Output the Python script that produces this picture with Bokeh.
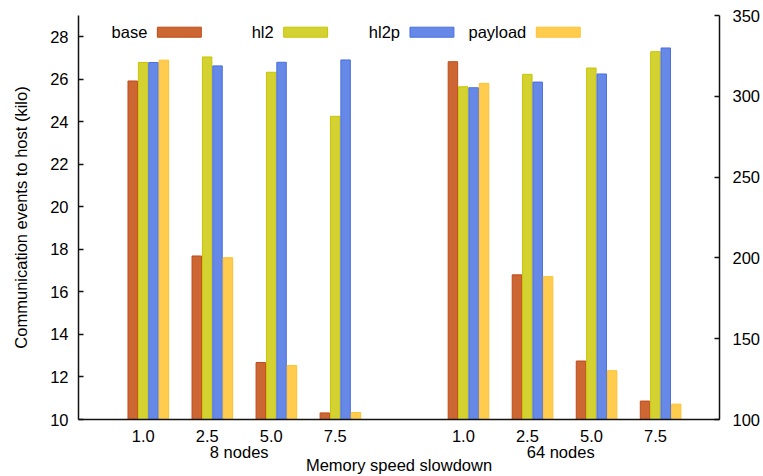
from bokeh.plotting import figure
from bokeh.models import Range1d, LinearAxis, FixedTicker, Label, BoxAnnotation, ColumnDataSource
from bokeh.embed import file_html
from bokeh.resources import INLINE

# ---- data ----
series = ["base", "hl2", "hl2p", "payload"]
slowdowns = ["1.0", "2.5", "5.0", "7.5"]
clusters = ["8 nodes", "64 nodes"]

# 8 nodes (left axis, kilo)
base_8 = [25.92, 17.69, 12.68, 10.31]
hl2_8 = [26.79, 27.05, 26.33, 24.26]
hl2p_8 = [26.79, 26.63, 26.80, 26.91]
payload_8 = [26.90, 17.61, 12.54, 10.33]

# 64 nodes (right axis, kilo)
base_64 = [321.4, 189.5, 136.2, 111.4]
hl2_64 = [305.9, 313.6, 317.5, 327.6]
hl2p_64 = [305.3, 308.8, 313.8, 329.9]
payload_64 = [308.0, 188.4, 130.2, 109.5]

left_ticks = [10, 12, 14, 16, 18, 20, 22, 24, 26, 28]
right_ticks = [100, 150, 200, 250, 300, 350]

fills = ["#CC6633", "#D4D233", "#6688E6", "#FFCC4D"]
edges = ["#C04A18", "#C8C400", "#4A6EE0", "#FFC030"]

FONT = "Liberation Sans"
FS = "16.5px"

# ---- geometry ----
FL, FR, FT, FB = 78, 720, 15, 419
XMIN, XMAX = -0.09, 9.92
YMIN, YMAX = 10, 29
RMIN, RMAX = 100, 350

def px_x(px):
    return XMIN + (px - FL) / (FR - FL) * (XMAX - XMIN)

def px_y(py):
    return YMAX - (py - FT) / (FB - FT) * (YMAX - YMIN)

p = figure(width=763, height=476, output_backend="svg", toolbar_location=None,
           x_range=Range1d(XMIN, XMAX), y_range=Range1d(YMIN, YMAX),
           min_border_left=FL, min_border_right=763 - FR,
           min_border_top=FT, min_border_bottom=476 - FB)
p.extra_y_ranges = {"right": Range1d(RMIN, RMAX)}
p.outline_line_color = None
p.xgrid.visible = False
p.ygrid.visible = False
p.background_fill_color = "white"

group_pos_8 = [1 + i for i in range(len(slowdowns))]
group_pos_64 = [6 + i for i in range(len(slowdowns))]
bw = 0.148
step = 0.162

vals_8 = [base_8, hl2_8, hl2p_8, payload_8]
vals_64 = [base_64, hl2_64, hl2p_64, payload_64]

for k, name in enumerate(series):
    off = (k - 1.5) * step
    src8 = ColumnDataSource(dict(x=[g + off for g in group_pos_8], top=vals_8[k]))
    p.vbar(x="x", top="top", bottom=YMIN, width=bw, source=src8,
           fill_color=fills[k], line_color=edges[k], line_width=1)
    src64 = ColumnDataSource(dict(x=[g + off for g in group_pos_64], top=vals_64[k]))
    p.vbar(x="x", top="top", bottom=RMIN, width=bw, source=src64,
           fill_color=fills[k], line_color=edges[k], line_width=1, y_range_name="right")

# ---- axes ----
ax = p.xaxis[0]
tick_pos = [g - 0.08 for g in group_pos_8 + group_pos_64]
cluster_pos = [2.42, 7.44]
ax.ticker = FixedTicker(ticks=tick_pos + cluster_pos)
overrides = {t: lab for t, lab in zip(tick_pos, slowdowns + slowdowns)}
for cpos, txt in zip(cluster_pos, clusters):
    overrides[cpos] = "\n" + txt
ax.major_label_overrides = overrides
ax.major_label_text_line_height = 0.9
ax.major_tick_in = 0
ax.major_tick_out = 0
ax.minor_tick_line_color = None
ax.major_label_standoff = 7
ax.axis_label = "Memory speed slowdown"
ax.axis_label_standoff = -8
ax.axis_label_text_font_style = "normal"

ay = p.yaxis[0]
ay.ticker = FixedTicker(ticks=left_ticks)
ay.major_tick_in = 5
ay.major_tick_out = 0
ay.minor_tick_line_color = None
ay.major_label_standoff = 10
ay.axis_label = "Communication events to host (kilo)"
ay.axis_label_standoff = 17
ay.axis_label_text_font_style = "normal"

ry = LinearAxis(y_range_name="right", ticker=FixedTicker(ticks=right_ticks))
ry.major_tick_in = 5
ry.major_tick_out = 0
ry.minor_tick_line_color = None
ry.major_label_standoff = 13
p.add_layout(ry, "right")

for a in [ax, ay, ry]:
    a.axis_line_color = "#111111"
    a.axis_line_width = 1.5
    a.major_tick_line_color = "#111111"
    a.major_tick_line_width = 1.5
    a.major_label_text_font = FONT
    a.major_label_text_font_size = FS
    a.major_label_text_color = "black"
    a.axis_label_text_font = FONT
    a.axis_label_text_font_size = FS
    a.axis_label_text_color = "black"

# legend (text left of the swatch like gnuplot key)
for k, name in enumerate(series):
    dx = k * 126.5
    p.add_layout(Label(x=px_x(147 + dx), y=px_y(31.5), text=name, text_align="right",
                       text_baseline="middle", text_font=FONT, text_font_size=FS,
                       text_color="black"))
    p.add_layout(BoxAnnotation(left=px_x(157 + dx), right=px_x(201 + dx),
                               top=px_y(26.7), bottom=px_y(36.7),
                               fill_color=fills[k], fill_alpha=1.0,
                               line_color=edges[k], line_width=1, line_alpha=1.0))

open("out.html", "w").write(file_html(p, INLINE))
